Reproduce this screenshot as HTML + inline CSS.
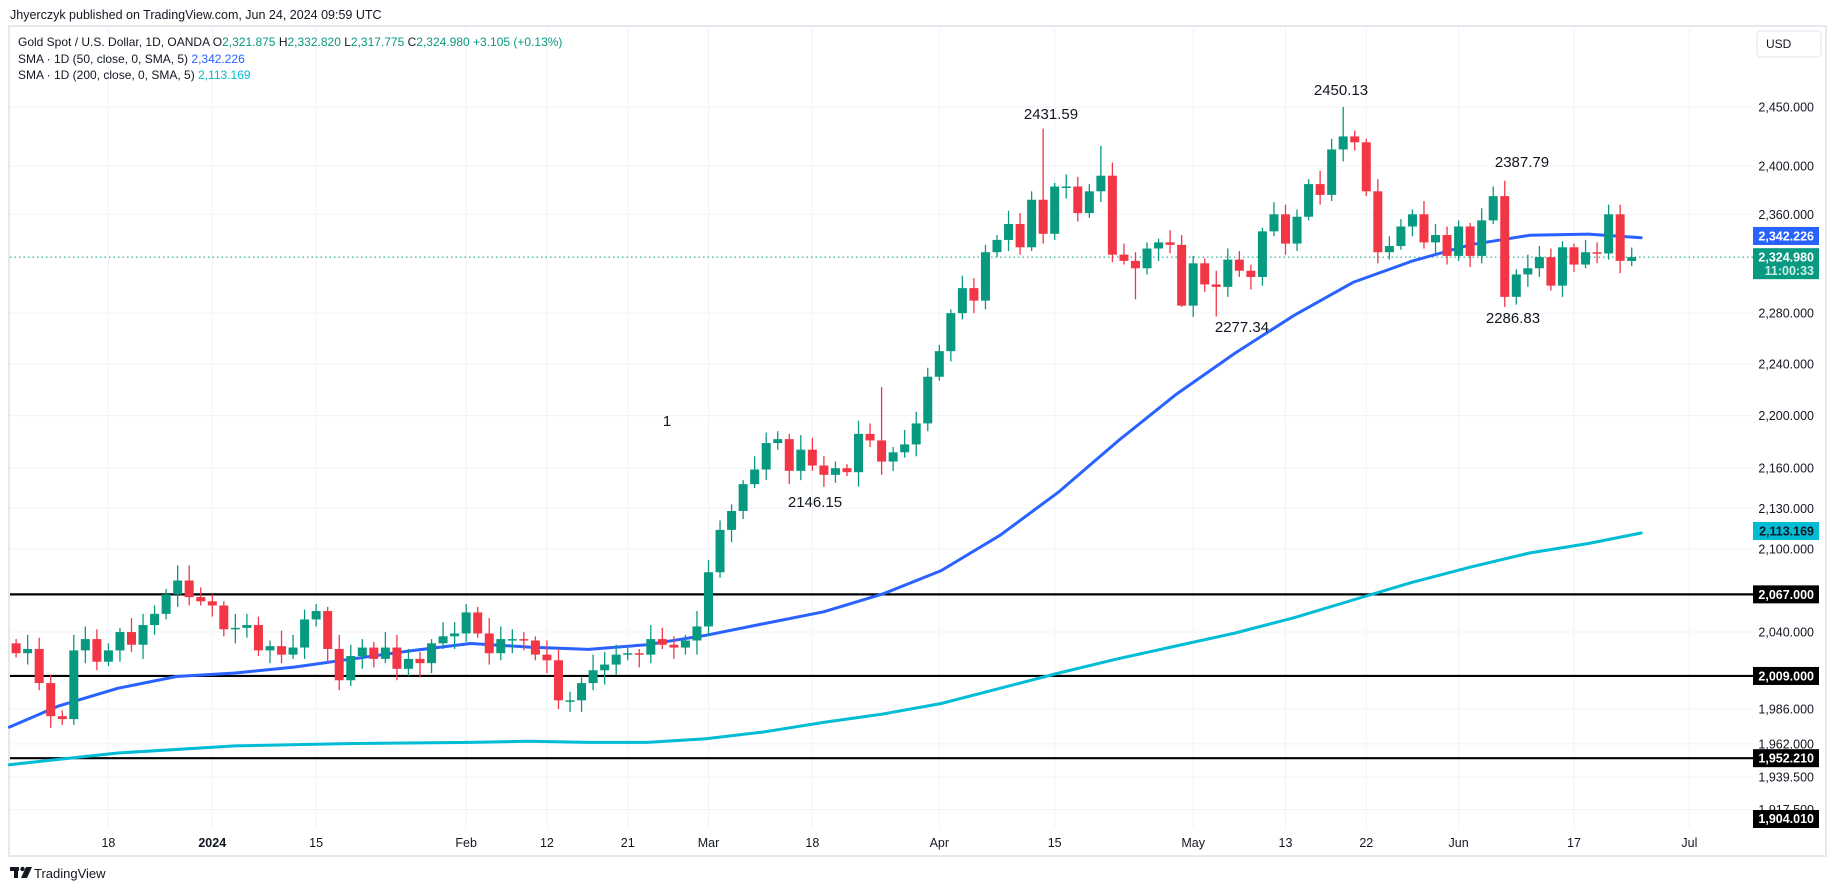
<!DOCTYPE html>
<html><head><meta charset="utf-8"><style>
html,body{margin:0;padding:0;background:#fff;width:1835px;height:891px;overflow:hidden;font-family:"Liberation Sans",sans-serif;}
</style></head><body>
<svg id="s" width="1835" height="891" xmlns="http://www.w3.org/2000/svg" font-family="Liberation Sans, sans-serif">
<rect x="0" y="0" width="1835" height="891" fill="#fff"/>
<text x="10" y="19" font-size="12.5" fill="#131722">Jhyerczyk published on TradingView.com, Jun 24, 2024 09:59 UTC</text>
<rect x="9" y="26" width="1817" height="830" fill="none" stroke="#e6e8ef" stroke-width="2"/>
<g id="grid"></g>
<g id="lines"></g>
<g id="candles"></g>
<g id="ax"></g>
<text x="18" y="46" font-size="12" fill="#131722">Gold Spot / U.S. Dollar, 1D, OANDA  <tspan>O</tspan><tspan fill="#089981">2,321.875</tspan>  H<tspan fill="#089981">2,332.820</tspan>  L<tspan fill="#089981">2,317.775</tspan>  C<tspan fill="#089981">2,324.980</tspan>  <tspan fill="#089981">+3.105 (+0.13%)</tspan></text>
<text x="18" y="63" font-size="12" fill="#131722">SMA · 1D (50, close, 0, SMA, 5)  <tspan fill="#2962ff">2,342.226</tspan></text>
<text x="18" y="79" font-size="12" fill="#131722">SMA · 1D (200, close, 0, SMA, 5)  <tspan fill="#00bcd4">2,113.169</tspan></text>
<rect x="1757" y="31" width="64" height="26" rx="4" fill="#fff" stroke="#e0e3eb"/>
<text x="1766" y="48" font-size="12" fill="#131722">USD</text>
<g font-size="15" fill="#131722" text-anchor="middle">
<text x="1051" y="119">2431.59</text>
<text x="1341" y="95">2450.13</text>
<text x="1522" y="167">2387.79</text>
<text x="1513" y="323">2286.83</text>
<text x="1242" y="332">2277.34</text>
<text x="815" y="507">2146.15</text>
<text x="667" y="426">1</text>
</g>
<rect x="10" y="867" width="9" height="4" fill="#131722"/><rect x="14" y="867" width="4" height="11" fill="#131722"/>
<circle cx="22.5" cy="869" r="2.2" fill="#131722"/><polygon points="26,867 32,867 27,878 21,878" fill="#131722"/>
<text x="34" y="878" font-size="13" fill="#131722">TradingView</text>
</svg>
<script>
var NS="http://www.w3.org/2000/svg";
function Y(p){return 107+2867*Math.log(2450/p);}
function X(k){return 1574-11.54*(k-5);}
function el(g,t,a,txt){var e=document.createElementNS(NS,t);for(var n in a)e.setAttribute(n,a[n]);if(txt!==undefined)e.textContent=txt;document.getElementById(g).appendChild(e);return e;}
var L=10,R=1753,T=28,B=828;
var prices=[2450,2400,2360,2280,2240,2200,2160,2130,2100,2040,1986,1962,1939.5,1917.5];
prices.forEach(function(p){el('grid','line',{x1:L,x2:R,y1:Y(p),y2:Y(p),stroke:'#f0f3fa','stroke-width':1});});
var tl=[[132,'18'],[123,'2024'],[114,'15'],[101,'Feb'],[94,'12'],[87,'21'],[80,'Mar'],[71,'18'],[60,'Apr'],[50,'15'],[38,'May'],[30,'13'],[23,'22'],[15,'Jun'],[5,'17'],[-5,'Jul']];
tl.forEach(function(t){var x=X(t[0]);el('grid','line',{x1:x,x2:x,y1:T,y2:B,stroke:'#f0f3fa','stroke-width':1});
el('ax','text',{x:x,y:847,'font-size':12.5,'text-anchor':'middle',fill:'#131722','font-weight':t[1]=='2024'?'bold':'normal'},t[1]);});
prices.forEach(function(p){var s=p.toLocaleString('en-US',{minimumFractionDigits:3,maximumFractionDigits:3});
el('ax','text',{x:1814,y:Y(p)+4.5,'font-size':12.5,'text-anchor':'end',fill:'#131722'},s);});
[2067,2009,1952.21].forEach(function(p){el('lines','line',{x1:L,x2:R,y1:Y(p),y2:Y(p),stroke:'#000','stroke-width':2.2});});
el('lines','line',{x1:L,x2:R,y1:Y(2324.98),y2:Y(2324.98),stroke:'#089981','stroke-width':1,'stroke-dasharray':'1.5,3'});
function poly(pts,col){var s=pts.map(function(p){return (p[0]*1.1765).toFixed(1)+','+(p[1]*1.1765).toFixed(1);}).join(' ');
el('lines','polyline',{points:s,fill:'none',stroke:col,'stroke-width':3,'stroke-linejoin':'round','stroke-linecap':'round'});}
poly([[8,618],[50,600],[100,585],[150,575],[200,572],[250,567],[300,560],[350,553],[400,547],[450,550],[500,552],[550,548],[600,540],[650,530],[700,520],[750,505],[800,485],[850,455],[900,418],[950,375],[1000,335],[1050,300],[1100,268],[1150,240],[1200,222],[1250,208],[1300,200],[1350,199],[1395,202]],'#2962ff');
poly([[8,650],[100,640],[200,634],[300,632],[400,631],[450,630],[500,631],[550,631],[600,628],[650,622],[700,614],[750,607],[800,598],[850,585],[900,572],[950,560],[1000,549],[1050,538],[1100,525],[1150,510],[1200,495],[1250,482],[1300,470],[1350,462],[1395,453]],'#00bcd4');
var C=[2025,2028,2004,1981,1979,2027,2035,2019,2027,2040,2031,2045,2053,2067,2077,2065,2062,
2059,2042,2043,2045,2027,2030,2024,2029,2049,2055,2028,2006,2023,2029,2021,2029,2014,2021,2018,2032,2037,2039,
2054,2039,2025,2035,2035,2034,2024,2020,1992,1992,2004,2013,2017,2024,2025,2024,2035,2031,2029,2034,2044,
2083,2114,2128,2148,2159,2179,2182,2158,2174,2162,2155,2160,2157,2186,2181,2165,2172,2178,2194,2230,
2250,2280,2300,2290,2329,2339,2352,2333,2372,2344,2383,2383,2361,2379,2392,2327,2322,2316,2332,2337,2335,2286,
2320,2303,2301,2323,2314,2309,2346,2360,2336,2358,2385,2376,2414,2425,2420,2379,2329,2334,2350,2360,2337,2343,2326,
2350,2326,2355,2375,2293,2311,2316,2325,2302,2333,2319,2329,2328,2360,2322,2324.98];
var H={},Lo={};
H[125]=2088;H[65]=2222;H[51]=2431.59;H[46]=2417;H[25]=2450.13;H[11]=2387.79;H[2]=2368;H[1]=2368;
Lo[137]=1973;Lo[136]=1975;Lo[92]=1984;Lo[43]=2291;Lo[36]=2277.34;Lo[10]=2286.83;Lo[67]=2146.15;Lo[39]=2285;
var prev=2032;
for(var i=0;i<C.length;i++){var k=140-i;var o=prev,c=C[i];if(k==0){o=2321.875;}
var w1=3+((i*7)%9),w2=3+((i*5)%8);
var h=Math.max(o,c)+w1,l=Math.min(o,c)-w2;if(H[k])h=H[k];if(Lo[k])l=Lo[k];if(k==0){h=2332.82;l=2317.775;}
var col=c>=o?'#089981':'#f23645';var x=X(k);
el('candles','line',{x1:x,x2:x,y1:Y(h),y2:Y(l),stroke:col,'stroke-width':1.3});
var y1=Y(Math.max(o,c)),y2=Y(Math.min(o,c));if(y2-y1<1.5){y2=y1+1.5;}
el('candles','rect',{x:x-4.5,y:y1,width:9,height:y2-y1,fill:col});
prev=c;}
function tag(p,bg,fg,txt,h){var y=Y(p);el('ax','rect',{x:1753,y:y-9,width:66,height:h||18,fill:bg});
el('ax','text',{x:1814,y:y+4.5,'font-size':12.5,'text-anchor':'end',fill:fg,'font-weight':'bold'},txt);}
tag(2342.226,'#2962ff','#fff','2,342.226');
tag(2324.98,'#089981','#fff','2,324.980',31);
el('ax','text',{x:1814,y:Y(2324.98)+18,'font-size':12.5,'text-anchor':'end',fill:'#cdeee6','font-weight':'bold'},'11:00:33');
tag(2113.169,'#00bcd4','#131722','2,113.169');
tag(2067,'#000','#fff','2,067.000');
tag(2009,'#000','#fff','2,009.000');
tag(1952.21,'#000','#fff','1,952.210');
el('ax','rect',{x:1753,y:810,width:66,height:18,fill:'#000'});
el('ax','text',{x:1814,y:823,'font-size':12.5,'text-anchor':'end',fill:'#fff','font-weight':'bold'},'1,904.010');
</script>
</body></html>
